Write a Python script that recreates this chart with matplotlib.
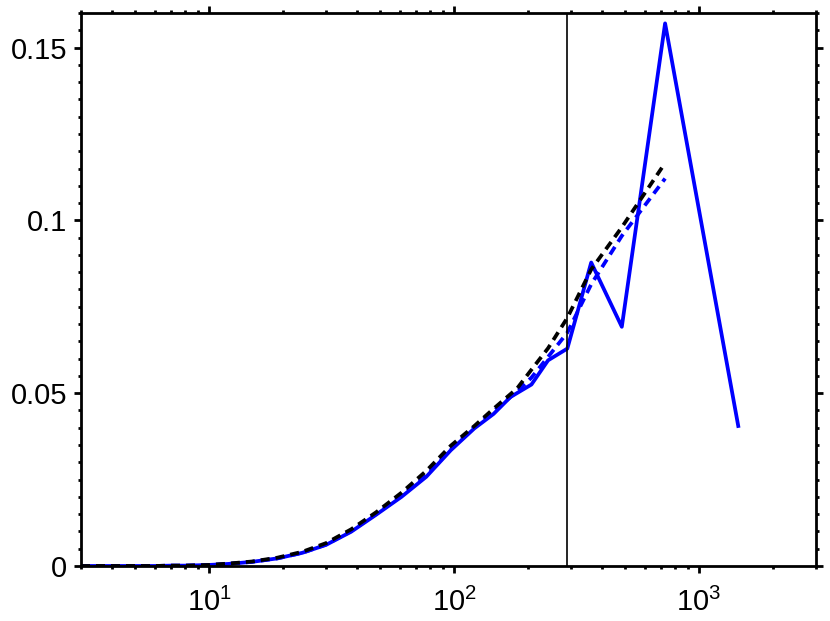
import matplotlib
matplotlib.use('Agg')
import matplotlib.pyplot as plt
import numpy as np
from matplotlib.ticker import MultipleLocator, FixedLocator, FixedFormatter, LogLocator

plt.rcParams['font.family'] = ['Liberation Sans', 'DejaVu Sans']
plt.rcParams['mathtext.default'] = 'regular'

# datos
x = [3, 4, 5, 6, 7, 8, 9, 10, 12, 15, 19, 24, 30, 38, 48, 61, 77, 97,
     121, 145, 170, 207, 242, 290, 363, 484, 727, 1446]
y_azul = [0, 0, 0, 0, 0.0001, 0.0001, 0.0002, 0.0003, 0.0006, 0.0012, 0.0022,
          0.0038, 0.0061, 0.0099, 0.0148, 0.0200, 0.0258, 0.0335, 0.0398,
          0.0440, 0.0489, 0.0525, 0.0595, 0.0629, 0.0878, 0.0692, 0.1570, 0.0405]

x_fit = [3, 4, 5, 6, 7, 8, 9, 10, 12, 15, 19, 24, 30, 38, 48, 61, 77, 97,
         121, 145, 181, 207, 242, 290, 363, 484, 727]
y_fit_azul = [0, 0, 0, 0, 0.0001, 0.0001, 0.0002, 0.0003, 0.0006, 0.0012, 0.0022,
              0.0038, 0.0062, 0.0101, 0.0150, 0.0203, 0.0262, 0.0337, 0.0402,
              0.0448, 0.0505, 0.0545, 0.0605, 0.0675, 0.0815, 0.0955, 0.1121]
y_fit_negro = [0, 0, 0, 0, 0.0001, 0.0001, 0.0002, 0.0003, 0.0007, 0.0013, 0.0024,
               0.0041, 0.0066, 0.0106, 0.0155, 0.0212, 0.0275, 0.0348, 0.0405,
               0.0455, 0.0514, 0.0568, 0.0630, 0.0718, 0.0858, 0.0980, 0.1166]

x_corte = 290
yticks = [0, 0.05, 0.1, 0.15]
ytick_labels = ['0', '0.05', '0.1', '0.15']

fig = plt.figure(figsize=(8.3, 6.21), dpi=100)
ax = fig.add_axes([0.0976, 0.0886, 0.8854, 0.8905])

ax.plot(x, y_azul, color='#0000ff', lw=2.7)
ax.plot(x_fit, y_fit_azul, color='#0000ff', lw=2.7, dashes=(2.4, 1.6))
ax.plot(x_fit, y_fit_negro, color='black', lw=2.7, dashes=(2.4, 1.6))
ax.axvline(x_corte, color='black', lw=1.2)

ax.set_xscale('log')
ax.set_xlim(3, 3000)
ax.set_ylim(0, 0.16)
ax.xaxis.set_major_locator(LogLocator(base=10, numticks=10))
ax.xaxis.set_minor_locator(LogLocator(base=10, subs=np.arange(2, 10), numticks=20))
ax.yaxis.set_major_locator(FixedLocator(yticks))
ax.yaxis.set_major_formatter(FixedFormatter(ytick_labels))
ax.yaxis.set_minor_locator(MultipleLocator(0.005))

ax.tick_params(which='both', direction='out', top=True, right=True,
               labelsize=21, width=2.0, pad=5)
ax.tick_params(axis='x', which='major', pad=11)
ax.tick_params(which='major', length=5)
ax.tick_params(which='minor', length=2.2)
for s in ax.spines.values():
    s.set_linewidth(2.0)

fig.savefig('out.png', dpi=100)
